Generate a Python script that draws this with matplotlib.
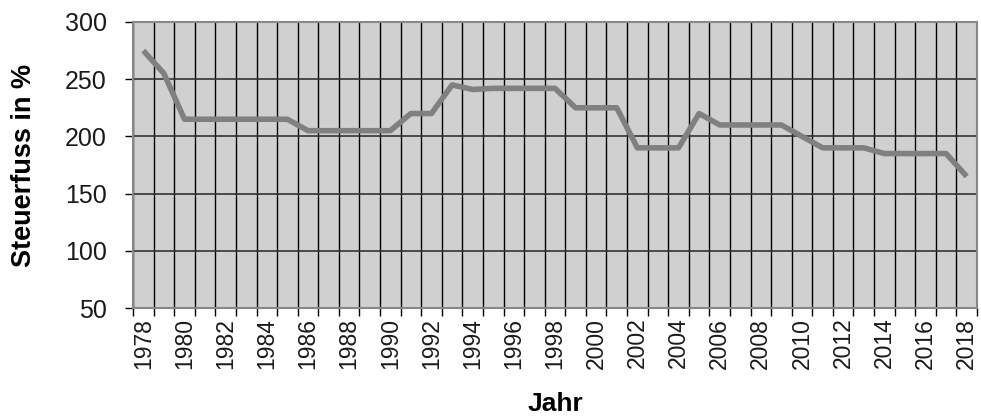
import matplotlib.pyplot as plt
import numpy as np

plt.rcParams['font.family'] = ['Liberation Sans', 'DejaVu Sans']

# Jahre und Steuerfuss (in %)
jahre = list(range(1978, 2019))
steuerfuss = [275, 255, 215, 215, 215, 215, 215, 215, 205, 205,
              205, 205, 205, 220, 220, 245, 241, 242, 242, 242,
              242, 225, 225, 225, 190, 190, 190, 220, 210, 210,
              210, 210, 200, 190, 190, 190, 185, 185, 185, 185,
              165]

fig = plt.figure(figsize=(9.81, 4.19), dpi=100)
ax = fig.add_axes([133/981, 111/419, 844/981, 286/419])
ax.set_facecolor('#d0d0d0')

x = np.arange(len(jahre))
ax.plot(x, steuerfuss, color='#808080', lw=4, solid_capstyle='butt', zorder=3)

ax.set_xlim(-0.5, len(jahre) - 0.5)
ax.set_ylim(50, 300)
ax.set_yticks([50, 100, 150, 200, 250, 300])

# Kategorie-Achse: Striche zwischen den Kategorien, Beschriftung in der Mitte
ax.set_xticks(np.arange(-0.5, len(jahre), 1))
ax.set_xticklabels([])
ax.set_xticks(x[::2], minor=True)
ax.set_xticklabels([str(j) for j in jahre[::2]], minor=True, rotation=90)
ax.tick_params(axis='x', which='major', length=6, width=1, color='black')
ax.tick_params(axis='x', which='minor', length=0, labelsize=16.5, pad=7,
               labelcolor='#1a1a1a')
ax.tick_params(axis='y', length=6, width=1, labelsize=18, pad=13,
               labelcolor='#1a1a1a')

ax.grid(True, axis='x', which='major', color='black', lw=1)
ax.grid(True, axis='y', color='#333333', lw=1.2)
ax.set_axisbelow(True)

for s in ax.spines.values():
    s.set_color('#888888')
    s.set_linewidth(1.5)

ax.set_ylabel('Steuerfuss in %', fontsize=19.5, fontweight='bold')
ax.set_xlabel('Jahr', fontsize=19, fontweight='bold')
ax.yaxis.set_label_coords(-0.114, 0.5)
ax.xaxis.set_label_coords(0.501, -0.293)

fig.savefig('out.png', dpi=100)
